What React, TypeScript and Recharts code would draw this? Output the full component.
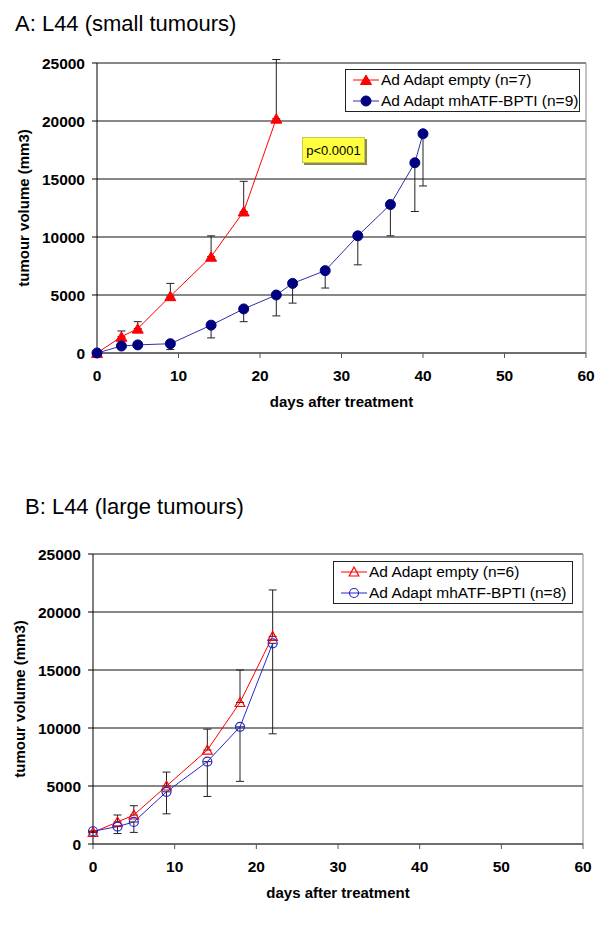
import React from "react";
import {
  LineChart,
  Line,
  XAxis,
  YAxis,
  CartesianGrid,
  ErrorBar,
  Legend,
  ReferenceLine,
} from "recharts";

const FONT = '"Liberation Sans", Arial, Helvetica, sans-serif';

const X_TICKS = [0, 10, 20, 30, 40, 50, 60];
const Y_TICKS = [0, 5000, 10000, 15000, 20000, 25000];

// A: small tumours
const daysEmptyA = [0, 3, 5, 9, 14, 18, 22];
const volEmptyA = [0, 1400, 2100, 4900, 8300, 12200, 20200];
const errEmptyA = [0, 500, 600, 1100, 1800, 2600, 5100];

const daysBptiA = [0, 3, 5, 9, 14, 18, 22, 24, 28, 32, 36, 39, 40];
const volBptiA = [0, 600, 700, 800, 2400, 3800, 5000, 6000, 7100, 10100, 12800, 16400, 18900];
const errBptiA = [0, 0, 0, 500, 1100, 1100, 1800, 1700, 1500, 2500, 2700, 4200, 4500];

// B: large tumours
const daysEmptyB = [0, 3, 5, 9, 14, 18, 22];
const volEmptyB = [1000, 1900, 2500, 5000, 8100, 12200, 17900];
const errEmptyB = [0, 600, 800, 1200, 1800, 2800, 4000];

const daysBptiB = [0, 3, 5, 9, 14, 18, 22];
const volBptiB = [1100, 1500, 1900, 4500, 7100, 10100, 17300];
const errBptiB = [0, 600, 900, 1900, 3000, 4700, 7800];

// error bars only drawn one way: empty vector up, mhATF-BPTI down
const toRows = (days: number[], vol: number[], err: number[], dir: "up" | "down") =>
  days.map((d, i) => ({
    day: d,
    vol: vol[i],
    err: dir === "up" ? [0, err[i]] : [err[i], 0],
  }));

const triDot = (fill: string, stroke: string, sw: number, w: number, up: number, down: number) =>
  (p: any) => {
    const { cx, cy } = p;
    const k = p.key ?? `t-${p.index}`;
    if (cx == null || cy == null) return <g key={k} />;
    return (
      <path
        key={k}
        d={`M${cx},${cy - up}L${cx + w},${cy + down}L${cx - w},${cy + down}Z`}
        fill={fill}
        stroke={stroke}
        strokeWidth={sw}
      />
    );
  };

const circDot = (fill: string, stroke: string, sw: number, r: number) =>
  (p: any) => {
    const { cx, cy } = p;
    const k = p.key ?? `c-${p.index}`;
    if (cx == null || cy == null) return <g key={k} />;
    return <circle key={k} cx={cx} cy={cy} r={r} fill={fill} stroke={stroke} strokeWidth={sw} />;
  };

interface Series {
  name: string;
  rows: { day: number; vol: number; err: number[] }[];
  lineColor: string;
  dot: (p: any) => React.ReactElement;
}

interface PanelProps {
  top: number;
  height: number;
  margin: { top: number; right: number; bottom: number; left: number };
  yAxisWidth: number;
  yLabelOffset: number;
  series: Series[];
  legendBox: { left: number; top: number; width: number };
  children?: React.ReactNode;
}

const tickStyle = { fill: "#000", fontSize: 15.5, fontWeight: "bold" as const, fontFamily: FONT };
const labelStyle = { fill: "#000", fontSize: 15, fontWeight: "bold" as const, fontFamily: FONT };

function LegendBox({ series }: { series: Series[] }) {
  return (
    <div
      style={{
        border: "1px solid #222",
        background: "#fff",
        boxSizing: "border-box",
        height: 43,
        paddingLeft: 7,
        fontFamily: FONT,
        fontSize: 15.5,
        color: "#000",
        display: "flex",
        flexDirection: "column",
        justifyContent: "center",
      }}
    >
      {series.map((s) => (
        <div key={s.name} style={{ display: "flex", alignItems: "center", height: 21 }}>
          <svg width={26} height={14} style={{ overflow: "visible" }}>
            <line x1={0} x2={26} y1={7} y2={7} stroke={s.lineColor} strokeWidth={1} />
            {s.dot({ cx: 13, cy: 7, index: 0, key: "lg" })}
          </svg>
          <span style={{ marginLeft: 2, whiteSpace: "nowrap" }}>{s.name}</span>
        </div>
      ))}
    </div>
  );
}

function Panel({ top, height, margin, yAxisWidth, yLabelOffset, series, legendBox, children }: PanelProps) {
  return (
    <div style={{ position: "absolute", left: 0, top, width: 600, height }}>
      <LineChart width={600} height={height} margin={margin}>
        <CartesianGrid vertical={false} stroke="#111" />
        <XAxis
          type="number"
          dataKey="day"
          domain={[0, 60]}
          ticks={X_TICKS}
          height={60}
          stroke="#555"
          tickSize={5}
          tickMargin={12}
          tick={tickStyle}
          label={{ value: "days after treatment", position: "insideBottom", offset: 6, style: labelStyle }}
        />
        <YAxis
          type="number"
          domain={[0, 25000]}
          ticks={Y_TICKS}
          width={yAxisWidth}
          stroke="#000"
          tickSize={5}
          tickMargin={7}
          tick={tickStyle}
          label={{
            value: "tumour volume (mm3)",
            angle: -90,
            position: "insideLeft",
            offset: yLabelOffset,
            style: { ...labelStyle, textAnchor: "middle" },
          }}
        />
        <YAxis yAxisId="err" hide type="number" domain={[0, 25000]} allowDataOverflow />
        <ReferenceLine y={25000} stroke="#888" />
        <ReferenceLine x={60} stroke="#888" />
        {series.map((s) => (
          <Line
            key={`err-${s.name}`}
            data={s.rows}
            dataKey="vol"
            yAxisId="err"
            stroke="none"
            dot={false}
            activeDot={false}
            legendType="none"
            isAnimationActive={false}
          >
            <ErrorBar dataKey="err" width={4} stroke="#222" strokeWidth={1} direction="y" />
          </Line>
        ))}
        {series.map((s) => (
          <Line
            key={s.name}
            name={s.name}
            data={s.rows}
            dataKey="vol"
            type="linear"
            stroke={s.lineColor}
            strokeWidth={1}
            dot={s.dot}
            activeDot={false}
            isAnimationActive={false}
          />
        ))}
        <Legend
          layout="horizontal"
          verticalAlign="middle"
          align="center"
          content={() => <LegendBox series={series} />}
          wrapperStyle={{ left: legendBox.left, top: legendBox.top, width: legendBox.width, height: 43 }}
        />
      </LineChart>
      {children}
    </div>
  );
}

export default function App() {
  const seriesA: Series[] = [
    {
      name: "Ad Adapt empty (n=7)",
      rows: toRows(daysEmptyA, volEmptyA, errEmptyA, "up"),
      lineColor: "#ff0000",
      dot: triDot("#ff0000", "#ff0000", 1, 5.5, 5, 4.5),
    },
    {
      name: "Ad Adapt mhATF-BPTI (n=9)",
      rows: toRows(daysBptiA, volBptiA, errBptiA, "down"),
      lineColor: "#3030a8",
      dot: circDot("#000080", "#000080", 1, 5),
    },
  ];

  const seriesB: Series[] = [
    {
      name: "Ad Adapt empty (n=6)",
      rows: toRows(daysEmptyB, volEmptyB, errEmptyB, "up"),
      lineColor: "#ff0000",
      dot: triDot("none", "#ff0000", 1.2, 4.8, 5, 4),
    },
    {
      name: "Ad Adapt mhATF-BPTI (n=8)",
      rows: toRows(daysBptiB, volBptiB, errBptiB, "down"),
      lineColor: "#2828c8",
      dot: circDot("none", "#2828c8", 1.2, 4.5),
    },
  ];

  return (
    <div style={{ position: "absolute", left: 0, top: 0, width: 600, height: 933, background: "#fff", fontFamily: FONT }}>
      <div style={{ position: "absolute", left: 15, top: 13, fontSize: 22, lineHeight: "22px", whiteSpace: "nowrap" }}>
        A: L44 (small tumours)
      </div>
      <Panel
        top={40}
        height={373}
        margin={{ top: 23, right: 14, bottom: 0, left: 0 }}
        yAxisWidth={97}
        yLabelOffset={24}
        series={seriesA}
        legendBox={{ left: 345, top: 29, width: 235 }}
      >
        <div
          style={{
            position: "absolute",
            left: 302,
            top: 97,
            width: 63,
            height: 26,
            boxSizing: "border-box",
            background: "#ffff40",
            border: "1px solid #c8c850",
            boxShadow: "2px 2px 0 #8a8a4a",
            fontSize: 13,
            display: "flex",
            alignItems: "center",
            justifyContent: "center",
          }}
        >
          p&lt;0.0001
        </div>
      </Panel>

      <div style={{ position: "absolute", left: 25, top: 496, fontSize: 22, lineHeight: "22px", whiteSpace: "nowrap" }}>
        B: L44 (large tumours)
      </div>
      <Panel
        top={520}
        height={384}
        margin={{ top: 34, right: 17, bottom: 0, left: 0 }}
        yAxisWidth={93}
        yLabelOffset={20}
        series={seriesB}
        legendBox={{ left: 333, top: 41, width: 240 }}
      />
    </div>
  );
}
